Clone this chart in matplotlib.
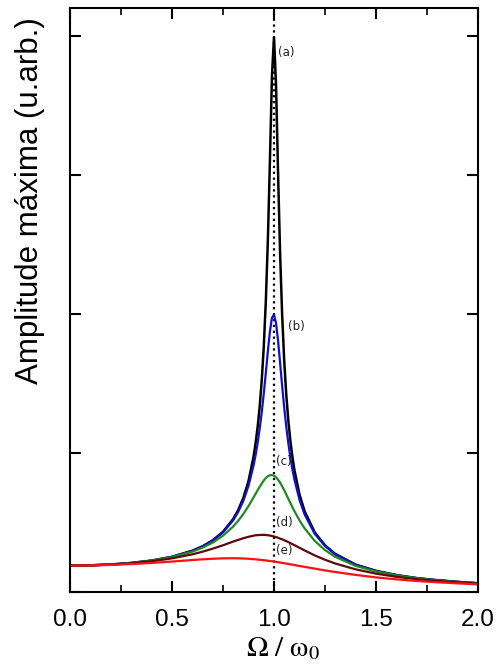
import numpy as np
import matplotlib
matplotlib.use('Agg')
import matplotlib.pyplot as plt
from matplotlib.ticker import MultipleLocator

matplotlib.rc('mathtext', fontset='stix')

# frequency ratio Omega / omega_0
w = [0.0, 0.1, 0.2, 0.3, 0.4, 0.5, 0.6, 0.65, 0.7, 0.75, 0.8, 0.825, 0.85, 0.875,
     0.9, 0.91, 0.92, 0.93, 0.94, 0.95, 0.96, 0.97, 0.98, 0.99, 1.0, 1.01, 1.02,
     1.03, 1.04, 1.05, 1.06, 1.07, 1.08, 1.09, 1.1, 1.125, 1.15, 1.2, 1.25, 1.3,
     1.4, 1.5, 1.6, 1.7, 1.8, 1.9, 2.0]

amp_a = [0.190, 0.192, 0.198, 0.209, 0.226, 0.253, 0.297, 0.329, 0.372, 0.433,
         0.525, 0.591, 0.678, 0.798, 0.976, 1.072, 1.190, 1.336, 1.524, 1.768,
         2.094, 2.533, 3.104, 3.713, 3.990, 3.645, 3.007, 2.430, 1.991, 1.666,
         1.423, 1.237, 1.091, 0.974, 0.878, 0.701, 0.581, 0.428, 0.336, 0.274,
         0.197, 0.152, 0.122, 0.100, 0.085, 0.073, 0.063]
amp_b = [0.190, 0.192, 0.198, 0.209, 0.226, 0.253, 0.296, 0.327, 0.369, 0.429,
         0.516, 0.578, 0.657, 0.764, 0.912, 0.987, 1.075, 1.176, 1.294, 1.429,
         1.578, 1.733, 1.874, 1.972, 1.995, 1.933, 1.806, 1.646, 1.481, 1.327,
         1.191, 1.073, 0.971, 0.884, 0.810, 0.663, 0.558, 0.418, 0.331, 0.271,
         0.196, 0.151, 0.121, 0.100, 0.085, 0.073, 0.063]
amp_c = [0.190, 0.192, 0.198, 0.208, 0.225, 0.251, 0.290, 0.319, 0.356, 0.405,
         0.471, 0.513, 0.562, 0.618, 0.681, 0.707, 0.732, 0.757, 0.781, 0.802,
         0.820, 0.833, 0.840, 0.841, 0.836, 0.825, 0.807, 0.786, 0.760, 0.732,
         0.702, 0.671, 0.641, 0.611, 0.582, 0.515, 0.458, 0.367, 0.302, 0.253,
         0.188, 0.147, 0.119, 0.099, 0.083, 0.072, 0.063]
amp_d = [0.190, 0.192, 0.197, 0.206, 0.221, 0.242, 0.271, 0.290, 0.312, 0.336,
         0.363, 0.375, 0.387, 0.397, 0.405, 0.408, 0.409, 0.410, 0.411, 0.411,
         0.410, 0.408, 0.406, 0.403, 0.399, 0.395, 0.390, 0.384, 0.379, 0.372,
         0.366, 0.359, 0.352, 0.344, 0.337, 0.318, 0.299, 0.263, 0.232, 0.205,
         0.163, 0.132, 0.109, 0.092, 0.079, 0.069, 0.060]
amp_e = [0.190, 0.191, 0.195, 0.201, 0.209, 0.219, 0.230, 0.235, 0.239, 0.242,
         0.243, 0.242, 0.241, 0.239, 0.236, 0.235, 0.233, 0.232, 0.230, 0.228,
         0.227, 0.225, 0.223, 0.221, 0.219, 0.216, 0.214, 0.212, 0.209, 0.207,
         0.204, 0.202, 0.199, 0.197, 0.194, 0.187, 0.181, 0.168, 0.155, 0.144,
         0.123, 0.105, 0.091, 0.079, 0.070, 0.062, 0.055]

labels = ['(a)', '(b)', '(c)', '(d)', '(e)']
label_pos = [(1.02, 3.88), (1.07, 1.91), (1.01, 0.935), (1.01, 0.50), (1.01, 0.295)]

fig = plt.figure(figsize=(4.98, 6.69), dpi=100)
ax = fig.add_axes([0.1406, 0.1151, 0.8192, 0.8729])

ax.axvline(1.0, color='k', linestyle=':', linewidth=1.6, zorder=1)
ax.plot(w, amp_a, color='black', linewidth=1.8)
ax.plot(w, amp_b, color='#1010c8', linewidth=1.6)
ax.plot(w, amp_c, color='#1f8a1f', linewidth=1.6)
ax.plot(w, amp_d, color='#5c0a0a', linewidth=1.6)
ax.plot(w, amp_e, color='#ff1010', linewidth=1.6)

for lab, (xx, yy) in zip(labels, label_pos):
    ax.text(xx, yy, lab, fontsize=8.5, va='center', ha='left', color='#222222')

ax.set_xlim(0, 2.0)
ax.set_ylim(0, 4.2)
ax.xaxis.set_major_locator(MultipleLocator(0.5))
ax.xaxis.set_minor_locator(MultipleLocator(0.25))
ax.yaxis.set_major_locator(MultipleLocator(1.0))
ax.set_yticklabels([])
ax.set_xticks([0.0, 0.5, 1.0, 1.5, 2.0])
ax.set_xticklabels(['0.0', '0.5', '1.0', '1.5', '2.0'])

ax.tick_params(which='major', direction='in', length=8, width=1.5,
               top=True, right=True, labelsize=17.5, pad=12)
ax.tick_params(which='minor', direction='in', length=5, width=1.2,
               top=True, right=True)
for s in ax.spines.values():
    s.set_linewidth(1.5)

plt.setp(ax.get_xticklabels(), fontname='Liberation Sans')
ax.set_xlabel(r'$\mathrm{\Omega\ /\ \omega_0}$', fontsize=21, labelpad=0)
ax.xaxis.set_label_coords(0.522, -0.072)
ax.set_ylabel('Amplitude máxima (u.arb.)', fontname='Liberation Sans',
              fontsize=22.5)
ax.yaxis.set_label_coords(-0.061, 0.671)

fig.savefig('out.png', dpi=100)
